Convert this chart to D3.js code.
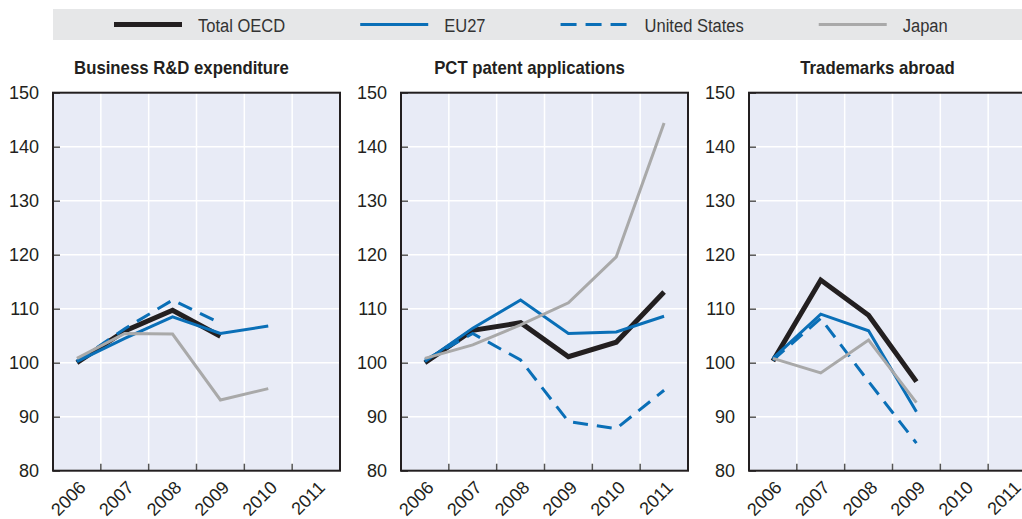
<!DOCTYPE html>
<html>
<head>
<meta charset="utf-8">
<script src="https://cdn.jsdelivr.net/npm/d3@7"></script>
<style>
  body { margin: 0; background: #fff; }
  svg { display: block; font-family: "Liberation Sans", Arial, sans-serif; }
  .axis path { display: none; }
  .axis text { fill: #231f20; font-size: 18px; }
</style>
</head>
<body>
<div id="chart"></div>
<script>
const years = ["2006", "2007", "2008", "2009", "2010", "2011"];
const yTicks = [80, 90, 100, 110, 120, 130, 140, 150];
const panelTitles = ["Business R&D expenditure", "PCT patent applications", "Trademarks abroad"];
const seriesNames = ["Total OECD", "EU27", "United States", "Japan"];

// Business R&D expenditure (2006 = 100)
const berdOECD = [100, 105.9, 109.7, 104.9, null, null];
const berdEU27 = [100.2, 104.5, 108.5, 105.4, 106.8, null];
const berdUS = [100.3, 106.3, 111.6, 107.3, null, null];
const berdJapan = [100.8, 105.4, 105.3, 93.1, 95.2, null];

// PCT patent applications
const pctOECD = [100, 106.0, 107.4, 101.1, 103.8, 113.1];
const pctEU27 = [100.2, 106.4, 111.6, 105.4, 105.7, 108.6];
const pctUS = [100.5, 105.4, 100.5, 89.1, 87.8, 94.9];
const pctJapan = [100.8, 103.3, 107.0, 111.1, 119.6, 144.4];

// Trademarks abroad
const tmOECD = [100.3, 115.3, 108.8, 96.5, null, null];
const tmEU27 = [100.8, 109.0, 105.9, 90.9, null, null];
const tmUS = [100.5, 108.2, 96.5, 85.1, null, null];
const tmJapan = [100.8, 98.1, 104.2, 92.6, null, null];

const panelData = [
  [berdOECD, berdEU27, berdUS, berdJapan],
  [pctOECD, pctEU27, pctUS, pctJapan],
  [tmOECD, tmEU27, tmUS, tmJapan],
];

const width = 1022;
const height = 519;
const panelLefts = [53, 401, 749];
const panelWidth = 287;
const plotTop = 92.7;
const plotBottom = 470.7;

const styles = [
  { color: "#231f20", width: 5, dash: null },
  { color: "#0a6fb7", width: 3, dash: null },
  { color: "#0a6fb7", width: 3, dash: "15,9" },
  { color: "#a9a9a9", width: 3, dash: null },
];

const svg = d3
  .select("#chart")
  .append("svg")
  .attr("width", width)
  .attr("height", height);

// legend band
svg.append("rect")
  .attr("x", 53)
  .attr("y", 9)
  .attr("width", width - 53)
  .attr("height", 31)
  .attr("fill", "#e6e7e8");

// the original uses a condensed face; squeeze the text horizontally
const legendSqueeze = 0.87;
const legend = svg.append("g").attr("class", "legend");
let lx = 114;
seriesNames.forEach((name, i) => {
  const s = styles[i];
  legend.append("line")
    .attr("x1", lx)
    .attr("x2", lx + 68)
    .attr("y1", 24.5)
    .attr("y2", 24.5)
    .attr("stroke", s.color)
    .attr("stroke-width", s.width)
    .attr("stroke-dasharray", i === 2 ? "16,9" : null);
  const t = legend.append("text")
    .attr("transform", `translate(${lx + 84},32) scale(${legendSqueeze},1)`)
    .attr("fill", "#333")
    .attr("font-size", 19)
    .text(name);
  lx += 84 + t.node().getComputedTextLength() * legendSqueeze + 75;
});

const y = d3.scaleLinear().domain([80, 150]).range([plotBottom, plotTop]);

panelData.forEach((series, p) => {
  const left = panelLefts[p];
  const x = d3
    .scaleBand()
    .domain(years)
    .range([left, left + panelWidth]);

  const g = svg.append("g");

  g.append("rect")
    .attr("x", left)
    .attr("y", plotTop)
    .attr("width", panelWidth)
    .attr("height", plotBottom - plotTop)
    .attr("fill", "#e8ebf6");

  // horizontal grid
  g.append("g")
    .selectAll("line")
    .data(yTicks.slice(1, -1))
    .join("line")
    .attr("x1", left)
    .attr("x2", left + panelWidth)
    .attr("y1", (d) => y(d))
    .attr("y2", (d) => y(d))
    .attr("stroke", "#fff")
    .attr("stroke-width", 1.5);

  // vertical grid at band boundaries
  const bounds = years.slice(1);
  g.append("g")
    .selectAll("line")
    .data(bounds)
    .join("line")
    .attr("x1", (d) => x(d))
    .attr("x2", (d) => x(d))
    .attr("y1", plotTop)
    .attr("y2", plotBottom)
    .attr("stroke", "#fff")
    .attr("stroke-width", 1.5);

  // x tick marks (inward)
  g.append("g")
    .selectAll("line")
    .data(bounds)
    .join("line")
    .attr("x1", (d) => x(d))
    .attr("x2", (d) => x(d))
    .attr("y1", plotBottom)
    .attr("y2", plotBottom - 7)
    .attr("stroke", "#555")
    .attr("stroke-width", 1.5);

  // y axis
  g.append("g")
    .attr("class", "axis")
    .attr("transform", `translate(${left},0)`)
    .call(
      d3.axisLeft(y)
        .tickValues(yTicks)
        .tickSizeInner(-7)
        .tickSizeOuter(0)
        .tickPadding(14)
    )
    .call((a) => a.selectAll("line").attr("stroke", "#555").attr("stroke-width", 1.5));

  // x axis labels
  g.append("g")
    .attr("class", "axis")
    .attr("transform", `translate(0,${plotBottom})`)
    .call(d3.axisBottom(x).tickSize(0))
    .call((a) =>
      a.selectAll("text")
        .attr("y", 0)
        .attr("dy", 0)
        .attr("font-size", 17)
        .attr("text-anchor", "end")
        .attr("transform", "translate(10,18) rotate(-45)")
    );

  // lines
  const line = d3
    .line()
    .defined((d) => d != null)
    .x((d, i) => x(years[i]) + x.bandwidth() / 2)
    .y((d) => y(d));

  series.forEach((values, si) => {
    const s = styles[si];
    g.append("path")
      .datum(values)
      .attr("fill", "none")
      .attr("stroke", s.color)
      .attr("stroke-width", s.width)
      .attr("stroke-dasharray", s.dash)
      .attr("stroke-linejoin", "miter")
      .attr("d", line);
  });

  // frame
  g.append("rect")
    .attr("x", left)
    .attr("y", plotTop)
    .attr("width", panelWidth)
    .attr("height", plotBottom - plotTop)
    .attr("fill", "none")
    .attr("stroke", "#231f20")
    .attr("stroke-width", 2);

  // title
  g.append("text")
    .attr("transform", `translate(${left + panelWidth / 2 - 15},74) scale(0.93,1)`)
    .attr("text-anchor", "middle")
    .attr("font-weight", "bold")
    .attr("font-size", 18)
    .attr("fill", "#231f20")
    .text(panelTitles[p]);
});
</script>
</body>
</html>
